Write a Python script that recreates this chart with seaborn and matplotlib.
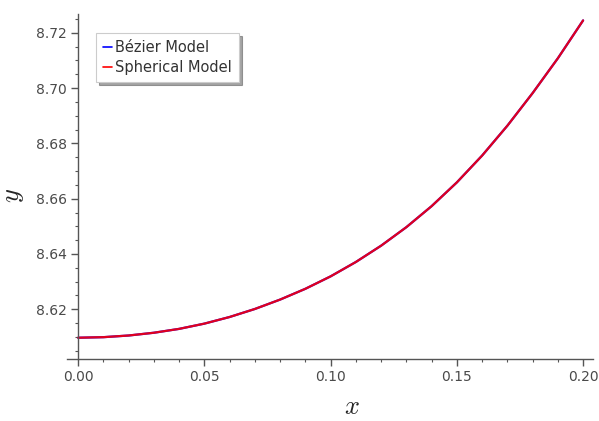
import matplotlib
matplotlib.use("Agg")
import matplotlib.pyplot as plt
from matplotlib.ticker import MultipleLocator
from matplotlib.lines import Line2D
import seaborn as sns
import pandas as pd

# values
x_vals = [0.00, 0.01, 0.02, 0.03, 0.04, 0.05, 0.06, 0.07, 0.08, 0.09, 0.10,
          0.11, 0.12, 0.13, 0.14, 0.15, 0.16, 0.17, 0.18, 0.19, 0.20]
y_vals = [8.6097, 8.6099, 8.6105, 8.6115, 8.6129, 8.6148, 8.6172, 8.6201,
          8.6235, 8.6274, 8.6319, 8.6371, 8.6430, 8.6497, 8.6573, 8.6659,
          8.6756, 8.6864, 8.6982, 8.7108, 8.7245]
series = ["Bézier Model", "Spherical Model"]
colors = ["#0000ff", "#ff0000"]
x_ticks = [0.00, 0.05, 0.10, 0.15, 0.20]
y_ticks = [8.62, 8.64, 8.66, 8.68, 8.70, 8.72]

sns.set_theme(style="white")
plt.rcParams["font.family"] = ["DejaVu Sans"]
plt.rcParams["mathtext.fontset"] = "cm"

rows = []
for s in series:
    for xv, yv in zip(x_vals, y_vals):
        rows.append({"x": xv, "y": yv, "model": s})
df = pd.DataFrame(rows)

fig = plt.figure(figsize=(5.99, 4.21), dpi=100)
ax = fig.add_axes([0.1119, 0.1466, 0.878, 0.820])

sns.lineplot(data=df, x="x", y="y", hue="model", hue_order=series,
             palette=colors, linewidth=1.6, ax=ax, legend=False, sort=True)
for line, a in zip(ax.lines, [1.0, 0.88]):
    line.set_alpha(a)

ax.set_xlim(-0.0044, 0.2039)
ax.set_ylim(8.6019, 8.7268)

ax.spines["right"].set_visible(False)
ax.spines["top"].set_visible(False)
ax.spines["left"].set_position(("data", 0))
for sp in ("left", "bottom"):
    ax.spines[sp].set_color("#555555")
    ax.spines[sp].set_linewidth(1.0)

ax.set_xticks(x_ticks)
ax.set_xticklabels([f"{v:.2f}" for v in x_ticks])
ax.set_yticks(y_ticks)
ax.set_yticklabels([f"{v:.2f}" for v in y_ticks])
ax.xaxis.set_minor_locator(MultipleLocator(0.01))
ax.yaxis.set_minor_locator(MultipleLocator(0.005))
ax.tick_params(axis="both", which="major", direction="out", length=5, width=1,
               color="#555555", labelcolor="#4a4a4a", labelsize=10, pad=3)
ax.tick_params(axis="both", which="minor", direction="out", length=2.5, width=0.8,
               color="#555555")
ax.tick_params(axis="x", bottom=True, which="both")
ax.tick_params(axis="y", left=True, which="both")

ax.set_xlabel("$x$", fontsize=19)
ax.set_ylabel("$y$", fontsize=19)
ax.xaxis.set_label_coords(0.542, -0.10)
ax.yaxis.set_label_coords(-0.078, 0.474)

handles = [Line2D([0], [0], color=c, lw=1.2) for c in colors]
leg = ax.legend(handles, series, loc="upper left", bbox_to_anchor=(0.055, 0.945),
                borderaxespad=0, fontsize=10.5, handlelength=0.6, handletextpad=0.2,
                borderpad=0.5, labelspacing=0.3, frameon=True, fancybox=False,
                shadow=True, framealpha=1)
leg.get_frame().set_edgecolor("#cccccc")
leg.get_frame().set_linewidth(0.8)
for t in leg.get_texts():
    t.set_color("#333333")

fig.savefig("out.png", dpi=100, facecolor="white")
